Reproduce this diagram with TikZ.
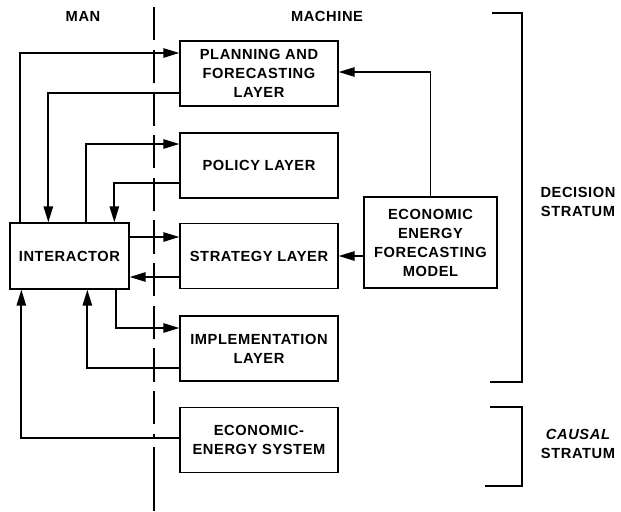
\documentclass[tikz,border=0pt]{standalone}
\usepackage{fontspec}
\setmainfont{Liberation Sans}[LetterSpace=4]
\usetikzlibrary{arrows.meta,calc}
\tikzstyle{layer}=[rectangle,draw,line width=1pt,align=center,minimum width=118.5pt,minimum height=48.75pt,inner sep=0pt]
\tikzstyle{lbl}=[align=center,inner sep=0pt]
\tikzstyle{arr}=[line width=1.3pt,-{Triangle[length=12pt,width=7pt]}]
\tikzstyle{divider}=[line width=1.5pt,dash pattern=on 25pt off 7pt]
\tikzstyle{brk}=[line width=1.2pt]
\begin{document}
\begin{tikzpicture}[x=0.75pt,y=-0.75pt,font=\fontsize{11}{14.25}\selectfont\bfseries]
\useasboundingbox (0,0) rectangle (621,511);
% man / machine border
\draw[divider] (154,7) -- (154,438);
\draw[line width=1.5pt] (154,447) -- (154,511);
\node[lbl] (man) at (83,16) {MAN};
\node[lbl] (machine) at (327,16) {MACHINE};
% layers
\node[layer] (plan) at (259,73.5) {PLANNING AND\\FORECASTING\\LAYER};
\node[layer] (policy) at (259,165.5) {POLICY LAYER};
\node[layer] (strat) at (259,256) {STRATEGY LAYER};
\node[layer] (impl) at (259,348.5) {IMPLEMENTATION\\LAYER};
\node[layer] (sys) at (259,440) {ECONOMIC-\\ENERGY SYSTEM};
\node[layer, minimum width=89.25pt, minimum height=49.5pt] (inter) at (69.5,256) {INTERACTOR};
\node[layer, minimum width=99.75pt, minimum height=68.25pt] (model) at (430.5,242.5) {ECONOMIC\\ENERGY\\FORECASTING\\MODEL};
% man <-> machine
\draw[arr] ($(inter.north west)+(11,0)$) |- ($(plan.west)+(0,-20.5)$);
\draw[arr] ($(plan.west)+(0,19.5)$) -| ($(inter.north west)+(39,0)$);
\draw[arr] ($(inter.north west)+(77,0)$) |- ($(policy.west)+(0,-21.5)$);
\draw[arr] ($(policy.west)+(0,17.5)$) -| ($(inter.north west)+(105,0)$);
\draw[arr] ($(inter.east)+(0,-19)$) -- ($(strat.west)+(0,-19)$);
\draw[arr] ($(strat.west)+(0,21)$) -- ($(inter.east)+(0,21)$);
\draw[arr] ($(inter.south west)+(107,0)$) |- ($(impl.west)+(0,-20.5)$);
\draw[arr] ($(impl.west)+(0,19.5)$) -| ($(inter.south west)+(78,0)$);
\draw[arr] ($(sys.west)+(0,-2)$) -| ($(inter.south west)+(12,0)$);
% forecasting model
\draw[arr] (model.north) |- ($(plan.east)+(0,-1.5)$);
\draw[arr] (model.west |- strat.east) -- (strat.east);
% strata
\draw[brk] (492,13) -- (522,13) -- (522,382) -- (490,382);
\draw[brk] (490,407) -- (522,407) -- (522,486) -- (485,486);
\node[lbl] (decision) at (578,202) {DECISION\\STRATUM};
\node[lbl] (causal) at (578,444) {\itshape CAUSAL\\STRATUM};
\end{tikzpicture}
\end{document}
